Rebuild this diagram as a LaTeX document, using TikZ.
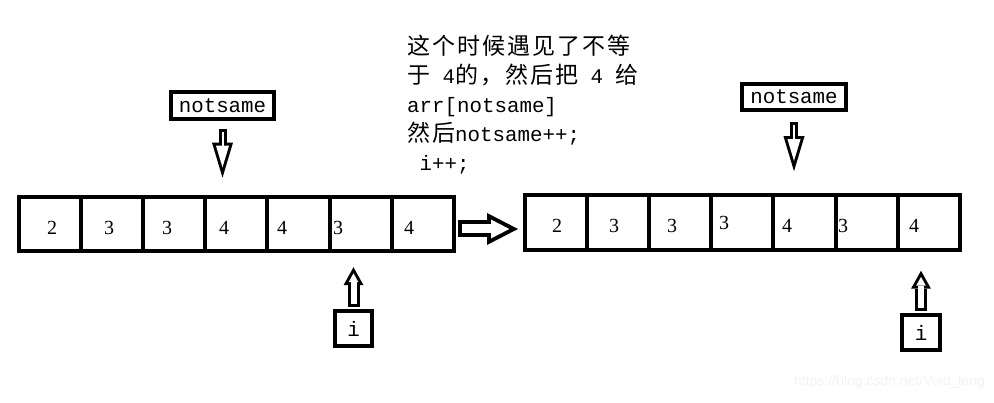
\documentclass[tikz,border=0pt]{standalone}
\usepackage{fontspec}
\usetikzlibrary{arrows.meta, positioning}
\newfontfamily\monofnt{Liberation Mono}
\newfontfamily\numfnt{Liberation Serif}
\newfontfamily\cjkfnt[LetterSpace=8.7]{Noto Sans CJK SC}
\newfontfamily\markfnt{Liberation Sans}
\newcommand\zh[1]{{\cjkfnt\fontsize{23}{29}\selectfont #1}}

\begin{document}
\begin{tikzpicture}[x=1pt, y=1pt,
    cell/.style={rectangle, draw, line width=4pt, minimum width=62.1pt, minimum height=54.5pt, inner sep=0pt, outer sep=0pt},
    ptrbox/.style={rectangle, draw, line width=4pt, inner sep=0pt, outer sep=0pt, font=\monofnt\fontsize{20.8}{25}\selectfont},
    num/.style={anchor=base, inner sep=0pt, font=\numfnt\fontsize{20}{24}\selectfont},
    note/.style={anchor=base west, inner sep=0pt, font=\monofnt\fontsize{20.8}{29}\selectfont},
    downout/.style={line width=8pt, -{Triangle[length=35pt, width=21pt, line width=0pt]}},
    downin/.style={white, line width=2pt, -{Triangle[length=21.6pt, width=13pt, line width=0pt]}},
    upout/.style={line width=12pt, -{Triangle[length=18pt, width=20pt, line width=0pt]}},
    upin/.style={white, line width=6pt, -{Triangle[length=8.8pt, width=9.8pt, line width=0pt]}},
    bigout/.style={line width=17pt, -{Triangle[length=31pt, width=32pt, line width=0pt]}},
    bigin/.style={white, line width=9pt, -{Triangle[length=18.3pt, width=18.9pt, line width=0pt]}},
]
\useasboundingbox (0,0) rectangle (994,403);

% Left array (before)
\node[cell] (cA1) at (50.05,179) {};
\node[cell, right=0pt of cA1] (cA2) {};
\node[cell, right=0pt of cA2] (cA3) {};
\node[cell, right=0pt of cA3] (cA4) {};
\node[cell, right=0pt of cA4] (cA5) {};
\node[cell, right=0pt of cA5] (cA6) {};
\node[cell, right=0pt of cA6] (cA7) {};
\node[num] (vA1) at (52,168) {2};
\node[num] (vA2) at (109,168) {3};
\node[num] (vA3) at (167,168) {3};
\node[num] (vA4) at (224,168) {4};
\node[num] (vA5) at (282,168) {4};
\node[num] (vA6) at (338,168) {3};
\node[num] (vA7) at (409,168) {4};

% Right array (after)
\node[cell] (cB1) at (556.05,180.5) {};
\node[cell, right=0pt of cB1] (cB2) {};
\node[cell, right=0pt of cB2] (cB3) {};
\node[cell, right=0pt of cB3] (cB4) {};
\node[cell, right=0pt of cB4] (cB5) {};
\node[cell, right=0pt of cB5] (cB6) {};
\node[cell, right=0pt of cB6] (cB7) {};
\node[num] (vB1) at (557,170) {2};
\node[num] (vB2) at (614,170) {3};
\node[num] (vB3) at (672,170) {3};
\node[num] (vB4) at (724,173) {3};
\node[num] (vB5) at (787,170) {4};
\node[num] (vB6) at (843,170) {3};
\node[num] (vB7) at (914,170) {4};

% Pointers
\node[ptrbox, minimum width=103pt, minimum height=27pt] (nsA) at (222.5,297.5) {notsame};
\node[ptrbox, minimum width=104pt, minimum height=26pt] (nsB) at (794,306) {notsame};
\node[ptrbox, minimum width=37pt, minimum height=35pt] (iA) at (353.5,74.5) {i};
\node[ptrbox, minimum width=38pt, minimum height=35pt] (iB) at (921,70.5) {i};

\draw[downout, shorten <=10pt, shorten >=19pt] (nsA.south) -- (nsA.south |- cA4.north);
\draw[downin, shorten <=13pt, shorten >=29.4pt] (nsA.south) -- (nsA.south |- cA4.north);
\draw[downout, shorten <=12pt, shorten >=24pt] (nsB.south) -- (nsB.south |- cB5.north);
\draw[downin, shorten <=15pt, shorten >=34.4pt] (nsB.south) -- (nsB.south |- cB5.north);
\draw[upout, shorten <=4pt, shorten >=16pt] (iA.north) -- (iA.north |- cA6.south);
\draw[upin, shorten <=7pt, shorten >=22.2pt] (iA.north) -- (iA.north |- cA6.south);
\draw[upout, shorten <=4pt, shorten >=21pt] (iB.north) -- (iB.north |- cB7.south);
\draw[upin, shorten <=7pt, shorten >=27.2pt] (iB.north) -- (iB.north |- cB7.south);

% Step arrow
\draw[bigout, shorten <=4pt, shorten >=7pt] ([yshift=-5pt]cA7.east) -- ([yshift=-5pt]cA7.east -| cB1.west);
\draw[bigin, shorten <=8pt, shorten >=15.7pt] ([yshift=-5pt]cA7.east) -- ([yshift=-5pt]cA7.east -| cB1.west);

% Note
\node[note] (ln1) at (407,348) {\zh{这个时候遇见了不等}};
\node[note] (ln2) at (407,319) {\zh{于} 4\zh{的，然后把} 4 \zh{给}};
\node[note] (ln3) at (407,290) {arr[notsame]};
\node[note] (ln4) at (407,261) {\zh{然后}notsame++;};
\node[note] (ln5) at (407,232) {\ i++;};

\node[anchor=east, inner sep=0pt, font=\markfnt\fontsize{14}{16}\selectfont, text=black!5] (mark) at (985,21) {https://blog.csdn.net/Void\_leng};

\end{tikzpicture}
\end{document}
